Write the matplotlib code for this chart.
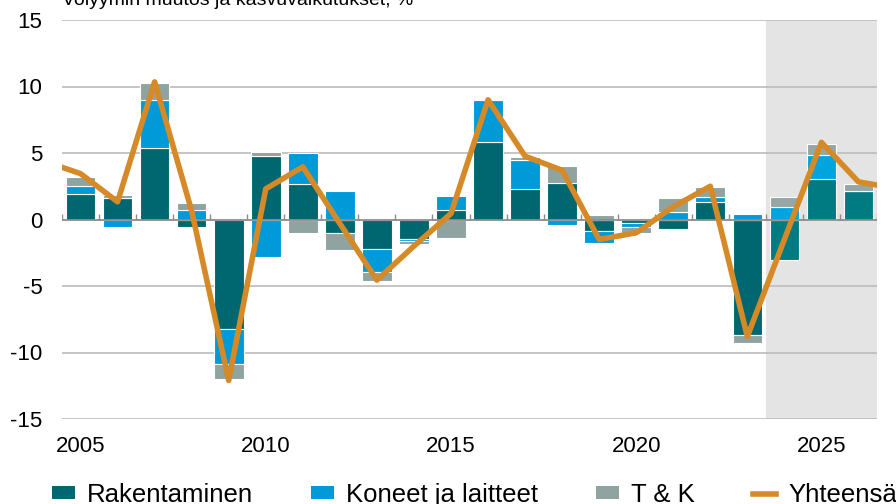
"""Investointien volyymin muutos ja kasvuvaikutukset pinottuna pylväskuvana."""

from __future__ import annotations

import matplotlib

matplotlib.use("Agg")

import matplotlib.pyplot as plt
import numpy as np
from matplotlib.lines import Line2D
from matplotlib.patches import Patch

plt.rcParams["font.family"] = ["Liberation Sans", "DejaVu Sans"]

TITLE = "Volyymin muutos ja kasvuvaikutukset, %"

YEARS = list(range(2005, 2027))
RAKENTAMINEN = [1.95, 1.6, 5.35, -0.55, -8.2, 4.76, 2.7, -1.0, -2.23, -1.5, 0.7,
                5.8, 2.33, 2.76, -0.88, -0.25, -0.68, 1.33, -8.7, -3.06, 3.08, 2.16]
KONEET = [0.55, -0.55, 3.6, 0.7, -2.7, -2.8, 2.33, 2.13, -1.7, -0.1, 1.08,
          3.22, 2.18, -0.38, -0.92, -0.35, 0.58, 0.37, 0.45, 0.95, 1.78, 0.0]
TK = [0.7, 0.25, 1.3, 0.55, -1.1, 0.33, -1.05, -1.3, -0.71, -0.23, -1.38,
      0.0, 0.18, 1.25, 0.33, -0.4, 1.0, 0.75, -0.6, 0.75, 0.82, 0.54]

LINE_YEARS = list(range(2004, 2028))
YHTEENSA = [4.4, 3.45, 1.33, 10.35, 0.65, -12.1, 2.3, 3.96, -0.3, -4.56, -2.0, 0.45,
            9.0, 4.76, 3.7, -1.5, -1.0, 0.95, 2.5, -8.8, -1.5, 5.8, 2.83, 2.35]

FORECAST_START = 2024
XTICKS = [2005, 2010, 2015, 2020, 2025]
YTICKS = [-15, -10, -5, 0, 5, 10, 15]

SERIES = [
    ("Rakentaminen", RAKENTAMINEN, "#00666f", "#007b82"),
    ("Koneet ja laitteet", KONEET, "#009ad8", "#00a5e0"),
    ("T & K", TK, "#8fa3a0", "#95a6a4"),
]
ORANGE = "#d68a27"


def main() -> None:
    fig = plt.figure(figsize=(8.96, 5.04), dpi=100)
    ax = fig.add_axes([62 / 896, 1 - 419 / 504, (877 - 62) / 896, 399 / 504])

    years = np.array(YEARS)
    ax.axvspan(FORECAST_START - 0.5, YEARS[-1] + 0.5, color="#e4e4e4", zorder=0, lw=0)

    for y in YTICKS:
        if y != 0:
            ax.axhline(y, color="#c0c0c0", lw=1.3, zorder=1)

    pos = np.zeros(len(years))
    neg = np.zeros(len(years))
    for _, vals, col, col_f in SERIES:
        vals = np.array(vals)
        bottom = np.where(vals >= 0, pos, neg)
        colors = [col_f if yr >= FORECAST_START else col for yr in years]
        ax.bar(years, vals, bottom=bottom, width=0.8, color=colors,
               edgecolor="white", linewidth=0.8, zorder=2)
        pos = pos + np.clip(vals, 0, None)
        neg = neg + np.clip(vals, None, 0)

    # nollaviiva ja luokkarajojen pienet väkäset
    ax.axhline(0, color="#8c8c8c", lw=1.3, zorder=3)
    bounds = np.arange(YEARS[0] - 0.5, YEARS[-1] + 1.0, 1.0)
    ax.vlines(bounds, 0, 0.38, color="#8c8c8c", lw=1.0, zorder=3)

    ax.plot(LINE_YEARS, YHTEENSA, color=ORANGE, lw=4.0, zorder=4,
            solid_joinstyle="round", solid_capstyle="butt")

    ax.set_xlim(YEARS[0] - 0.5, YEARS[-1] + 0.5)
    ax.set_ylim(-15, 15)
    ax.set_xticks(XTICKS)
    ax.set_xticklabels([str(x) for x in XTICKS])
    ax.set_yticks(YTICKS)
    ax.set_yticklabels([str(y) for y in YTICKS])
    ax.tick_params(axis="x", length=0, pad=12, labelsize=16)
    ax.tick_params(axis="y", length=0, pad=14, labelsize=16)
    for s in ax.spines.values():
        s.set_visible(False)

    fig.text(62 / 896, 1 - 5 / 504, TITLE, fontsize=14, va="baseline", ha="left")

    handles = [Patch(facecolor=col, edgecolor="none") for _, _, col, _ in SERIES]
    handles.append(Line2D([0], [0], color=ORANGE, lw=4))
    labels = [name for name, *_ in SERIES] + ["Yhteensä"]
    fig.legend(handles, labels, ncol=4, loc="center left",
               bbox_to_anchor=(52 / 896, 1 - 495 / 504), frameon=False,
               fontsize=18.5, handlelength=0.9, handleheight=0.39,
               handletextpad=0.47, columnspacing=2.25, borderpad=0, borderaxespad=0)

    fig.savefig("out.png", dpi=100)
    plt.close(fig)


if __name__ == "__main__":
    main()
